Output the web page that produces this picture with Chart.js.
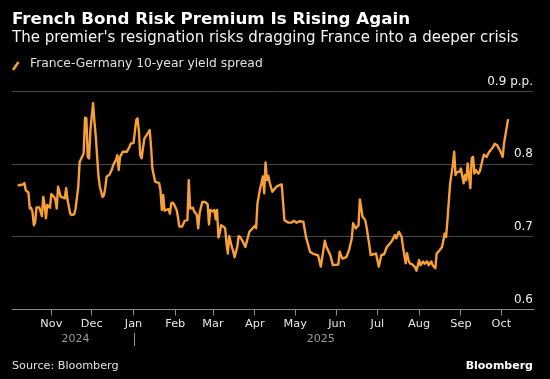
<!DOCTYPE html>
<html>
<head>
<meta charset="utf-8">
<script src="https://cdn.jsdelivr.net/npm/chart.js@4/dist/chart.umd.min.js"></script>
<style>
  html, body { margin: 0; padding: 0; background: #000; }
  #wrap { position: relative; width: 550px; height: 379px; background: #000; overflow: hidden; font-family: 'DejaVu Sans', sans-serif; }
  #c { position: absolute; left: 0; top: 0; }
  .t { position: absolute; white-space: nowrap; }
  #title { left: 12px; top: 7.5px; font-size: 16.7px; line-height: 20px; font-weight: bold; color: #fff; }
  #sub { left: 12px; top: 27.8px; font-size: 15px; line-height: 18px; color: #f2f2f2; }
  #leg { left: 30px; top: 56.2px; font-size: 12.3px; line-height: 14px; color: #e0e0e0; }
  #src { left: 12px; top: 358.7px; font-size: 11.2px; line-height: 13px; color: #e0e0e0; }
  #brand { right: 17px; top: 358.7px; font-size: 11px; line-height: 13px; color: #fff; font-weight: bold; }
</style>
</head>
<body>
<div id="wrap">
  <canvas id="c" width="550" height="379"></canvas>
  <div class="t" id="title">French Bond Risk Premium Is Rising Again</div>
  <div class="t" id="sub">The premier's resignation risks dragging France into a deeper crisis</div>
  <div class="t" id="leg">France-Germany 10-year yield spread</div>
  <div class="t" id="src">Source: Bloomberg</div>
  <div class="t" id="brand">Bloomberg</div>
</div>
<script>
// Days counted from 2024-10-01 (day 0)
const seriesName = 'France-Germany 10-year yield spread';
const days = [6,7,10,11,12,14,15,16,17,18,19,20,22,23,24,25,26,27,28,30,31,33,34,35,36,38,40,41,42,43,45,46,48,49,51,52,54,55,56,57,58,59,60,62,63,64,66,67,69,70,71,72,74,76,77,79,80,81,82,84,87,89,90,92,94,95,96,97,98,100,101,104,105,106,108,111,112,113,114,115,116,118,119,120,121,122,124,125,126,128,130,132,133,134,136,137,139,140,141,143,145,147,148,149,151,152,153,154,155,156,157,158,160,161,162,163,165,166,167,169,170,171,173,175,176,178,180,182,183,184,186,187,188,189,190,191,192,193,195,198,200,202,204,207,209,211,213,215,218,220,223,225,229,231,234,235,238,240,244,245,247,250,252,254,255,257,259,260,262,264,265,267,268,270,272,274,276,278,280,282,284,286,287,289,291,292,294,295,296,297,299,301,302,304,305,307,308,310,311,313,314,316,317,319,321,323,324,325,327,329,330,331,332,334,335,337,338,339,340,342,343,344,345,346,348,349,351,352,354,356,357,359,360,362,363,364,366,367,370];
const spread = [0.771,0.771,0.772,0.774,0.764,0.761,0.739,0.740,0.7345,0.716,0.720,0.7406,0.7406,0.735,0.7286,0.755,0.744,0.7254,0.744,0.740,0.759,0.755,0.751,0.739,0.769,0.755,0.754,0.753,0.767,0.751,0.732,0.730,0.731,0.739,0.769,0.803,0.811,0.815,0.864,0.863,0.810,0.808,0.847,0.884,0.858,0.838,0.783,0.769,0.755,0.757,0.767,0.783,0.785,0.793,0.799,0.806,0.8125,0.792,0.810,0.817,0.817,0.824,0.8286,0.829,0.8607,0.863,0.845,0.8125,0.808,0.835,0.838,0.847,0.824,0.794,0.776,0.774,0.764,0.737,0.7575,0.736,0.737,0.738,0.732,0.746,0.747,0.745,0.737,0.727,0.714,0.714,0.722,0.723,0.778,0.739,0.740,0.735,0.730,0.7117,0.732,0.748,0.748,0.745,0.717,0.737,0.735,0.737,0.724,0.737,0.699,0.705,0.716,0.715,0.712,0.691,0.677,0.701,0.686,0.680,0.672,0.686,0.701,0.700,0.694,0.686,0.693,0.707,0.711,0.715,0.712,0.746,0.767,0.774,0.783,0.760,0.8025,0.778,0.784,0.775,0.762,0.769,0.771,0.772,0.723,0.7195,0.7195,0.722,0.7195,0.7215,0.721,0.700,0.6795,0.677,0.6745,0.659,0.6947,0.687,0.675,0.661,0.662,0.6795,0.670,0.672,0.682,0.698,0.7186,0.7117,0.716,0.7516,0.7277,0.723,0.713,0.689,0.675,0.676,0.677,0.659,0.675,0.676,0.686,0.690,0.695,0.7025,0.698,0.707,0.700,0.686,0.6635,0.6775,0.669,0.6635,0.662,0.658,0.6534,0.668,0.661,0.666,0.663,0.666,0.661,0.666,0.661,0.6567,0.677,0.681,0.686,0.7048,0.700,0.723,0.7736,0.799,0.817,0.785,0.789,0.7895,0.794,0.7736,0.785,0.778,0.801,0.767,0.808,0.810,0.787,0.792,0.787,0.790,0.8056,0.813,0.810,0.817,0.819,0.824,0.828,0.826,0.822,0.819,0.810,0.8286,0.862];
const monthTickDays = [31,61,92,123,151,182,212,243,273,304,335,365];
const monthLabels = ['Nov','Dec','Jan','Feb','Mar','Apr','May','Jun','Jul','Aug','Sep','Oct'];
const yTicks = [0.6,0.7,0.8,0.9];
const yearLabels = ['2024','2025'];
const yearStartDay = 92;
const xRange = [1.8, 388.5];

const FONT = "'DejaVu Sans', sans-serif";
const ORANGE = '#f8a035';

const extras = {
  id: 'extras',
  afterDraw(chart) {
    const ctx = chart.ctx;
    const xs = chart.scales.x;
    ctx.save();
    // legend icon
    ctx.strokeStyle = ORANGE;
    ctx.lineWidth = 2.5;
    ctx.lineCap = 'butt';
    ctx.beginPath();
    ctx.moveTo(13, 70);
    ctx.lineTo(18.5, 62);
    ctx.stroke();
    // year labels
    ctx.fillStyle = '#9a9a9a';
    ctx.font = '11px ' + FONT;
    ctx.textAlign = 'center';
    ctx.textBaseline = 'middle';
    const first = days[0], last = days[days.length - 1];
    ctx.fillText(yearLabels[0], xs.getPixelForValue((first + yearStartDay) / 2), 339);
    ctx.fillText(yearLabels[1], xs.getPixelForValue((yearStartDay + last) / 2), 339);
    const xj = Math.round(xs.getPixelForValue(yearStartDay)) + 0.5;
    ctx.strokeStyle = '#9a9a9a';
    ctx.lineWidth = 1;
    ctx.beginPath();
    ctx.moveTo(xj, 333);
    ctx.lineTo(xj, 346);
    ctx.stroke();
    ctx.restore();
  }
};

new Chart(document.getElementById('c'), {
  type: 'line',
  data: {
    datasets: [{
      label: seriesName,
      data: days.map((d, i) => ({ x: d, y: spread[i] })),
      borderColor: ORANGE,
      borderWidth: 2.4,
      borderJoinStyle: 'round',
      pointRadius: 0,
      tension: 0,
      fill: false
    }]
  },
  options: {
    responsive: false,
    animation: false,
    devicePixelRatio: 1,
    layout: { padding: { left: 12, right: 0, top: 91.5, bottom: 0 } },
    plugins: { legend: { display: false }, tooltip: { enabled: false } },
    scales: {
      x: {
        type: 'linear',
        min: xRange[0],
        max: xRange[1],
        afterBuildTicks: (s) => { s.ticks = monthTickDays.map(v => ({ value: v })); },
        afterFit: (s) => { s.height = 69.5; },
        grid: { drawOnChartArea: false, drawTicks: true, tickLength: 6, color: '#8a8a8a', lineWidth: 1 },
        border: { display: true, color: '#8a8a8a', width: 1 },
        ticks: {
          autoSkip: false, maxRotation: 0, padding: 2,
          color: '#e6e6e6', font: { family: FONT, size: 11.3 },
          callback: (v) => { const i = monthTickDays.indexOf(v); return i >= 0 ? monthLabels[i] : ''; }
        }
      },
      y: {
        type: 'linear',
        position: 'right',
        min: yTicks[0],
        max: yTicks[yTicks.length - 1],
        afterBuildTicks: (s) => { s.ticks = yTicks.map(v => ({ value: v })); },
        afterFit: (s) => { s.width = 17; },
        grid: {
          drawTicks: false,
          color: (c) => (c.tick && Math.abs(c.tick.value - 0.6) < 1e-9) ? '#8a8a8a' : '#464646',
          lineWidth: 1
        },
        border: { display: false },
        ticks: {
          mirror: true, padding: 0, labelOffset: -10,
          color: '#f0f0f0', font: { family: FONT, size: 12 },
          callback: (v) => Math.abs(v - 0.9) < 1e-9 ? '0.9 p.p.' : Number(v).toFixed(1)
        }
      }
    }
  },
  plugins: [extras]
});
</script>
</body>
</html>
